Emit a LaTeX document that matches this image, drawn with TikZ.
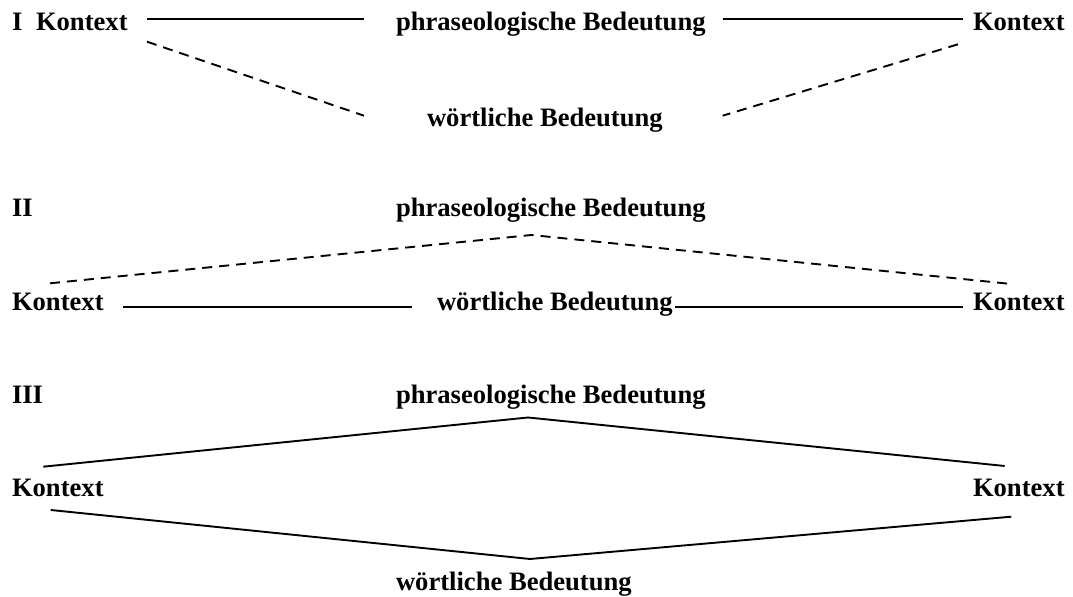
\documentclass[tikz,border=0pt]{standalone}
\usepackage{fontspec}
\setmainfont{Liberation Serif}
\begin{document}
\begin{tikzpicture}[x=0.5pt,y=-0.5pt,
  lbl/.style={anchor=base west,inner sep=0pt,outer sep=0pt,font=\fontsize{13.3}{15}\selectfont\bfseries},
  solidline/.style={line width=0.95pt},
  dashline/.style={line width=0.95pt,dash pattern=on 5pt off 3.5pt}]
\useasboundingbox (0,0) rectangle (1073,597);
% ---------- I ----------
\node[lbl] (nI) at (12,31) {I};
\node[lbl] (kIa) at (36,31) {Kontext};
\node[lbl] (pI) at (396,31) {phraseologische Bedeutung};
\node[lbl] (kIb) at (973,31) {Kontext};
\node[lbl] (wI) at (427,126.5) {wörtliche Bedeutung};
\coordinate (a1) at (147,19.3);
\coordinate (a2) at (364,19.3);
\coordinate (a3) at (722.7,19.3);
\coordinate (a4) at (963,19.3);
\coordinate (a5) at (147,41.7);
\coordinate (a6) at (364,115.7);
\coordinate (a7) at (958,44.3);
\coordinate (a8) at (722.7,115.7);
\draw[solidline] (a1) -- (a2);
\draw[solidline] (a3) -- (a4);
\draw[dashline] (a5) -- (a6);
\draw[dashline] (a7) -- (a8);
% ---------- II ----------
\node[lbl] (nII) at (12,217) {II};
\node[lbl] (pII) at (396,217) {phraseologische Bedeutung};
\node[lbl] (kIIa) at (12,310.5) {Kontext};
\node[lbl] (wII) at (437,310.5) {wörtliche Bedeutung};
\node[lbl] (kIIb) at (973,310.5) {Kontext};
\coordinate (b1) at (50,283.3);
\coordinate (b2) at (531.5,235);
\coordinate (b3) at (1011.3,284);
\coordinate (b4) at (123.3,307.3);
\coordinate (b5) at (411.7,307.3);
\coordinate (b6) at (675,307.3);
\coordinate (b7) at (963,307.3);
\draw[dashline] (b1) -- (b2) -- (b3);
\draw[solidline] (b4) -- (b5);
\draw[solidline] (b6) -- (b7);
% ---------- III ----------
\node[lbl] (nIII) at (12,404) {III};
\node[lbl] (pIII) at (396,404) {phraseologische Bedeutung};
\node[lbl] (kIIIa) at (12,497) {Kontext};
\node[lbl] (kIIIb) at (973,497) {Kontext};
\node[lbl] (wIII) at (396,591) {wörtliche Bedeutung};
\coordinate (c1) at (43.3,466.7);
\coordinate (c2) at (528,417.5);
\coordinate (c3) at (1004.7,466);
\coordinate (c4) at (50.7,510);
\coordinate (c5) at (530,559);
\coordinate (c6) at (1011.3,516.7);
\draw[solidline] (c1) -- (c2) -- (c3);
\draw[solidline] (c4) -- (c5) -- (c6);
\end{tikzpicture}
\end{document}
